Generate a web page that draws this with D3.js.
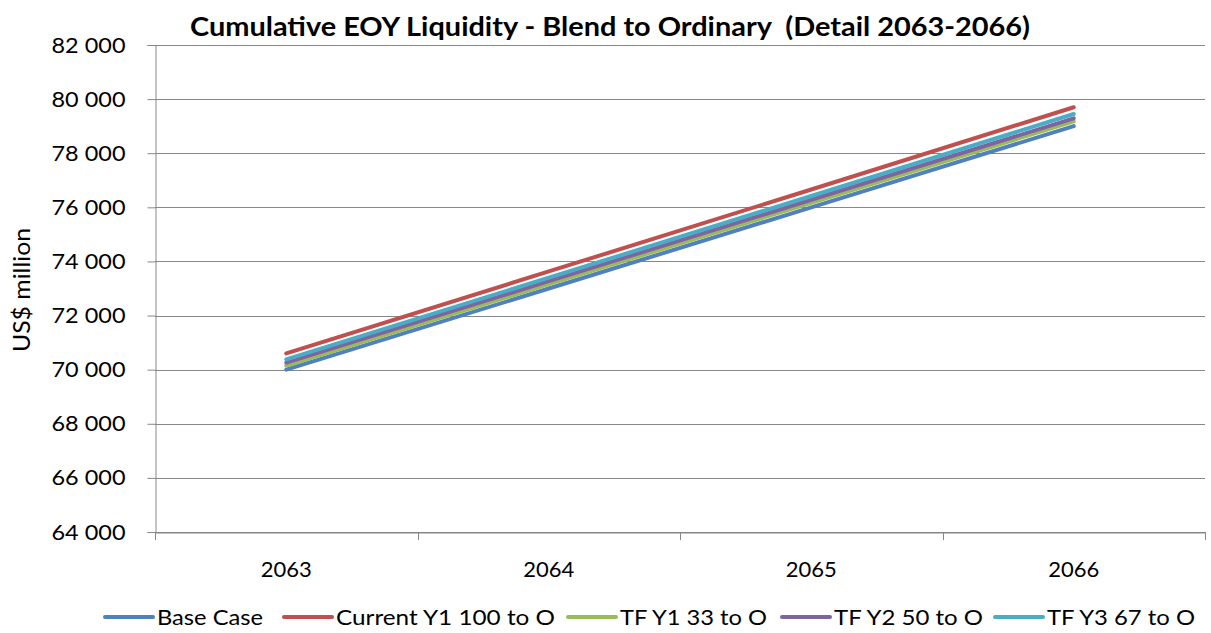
<!DOCTYPE html>
<html>
<head>
<meta charset="utf-8">
<script src="https://cdn.jsdelivr.net/npm/d3@7"></script>
<style>
  html, body { margin: 0; padding: 0; background: #fff; }
  svg { display: block; }
  text { font-family: Lato, "Open Sans", sans-serif; fill: #000; }
</style>
</head>
<body>
<svg id="chart" width="1211" height="633"></svg>
<script>
const categories = ["2063", "2064", "2065", "2066"];
const seriesNames = ["Base Case", "Current Y1 100 to O", "TF Y1 33 to O", "TF Y2 50 to O", "TF Y3 67 to O"];
const baseCase  = [70000, 73000, 76000, 79000];
const currentY1 = [70600, 73630, 76660, 79700];
const tfY1      = [70150, 73160, 76170, 79180];
const tfY2      = [70260, 73270, 76280, 79290];
const tfY3      = [70380, 73400, 76420, 79450];
const yTicks = [64000, 66000, 68000, 70000, 72000, 74000, 76000, 78000, 80000, 82000];
const colors = ["#4F81BD", "#C0504D", "#9BBB59", "#8064A2", "#4BACC6"];
const titleText = "Cumulative EOY Liquidity - Blend to Ordinary  (Detail 2063-2066)";
const yLabel = "US$ million";

const series = [baseCase, currentY1, tfY1, tfY2, tfY3].map((v, i) => ({name: seriesNames[i], values: v, color: colors[i]}));

const svg = d3.select("#chart");
const m = {left: 155, right: 1205, top: 45, bottom: 532};
const axisColor = "#878787";

const x = d3.scaleBand().domain(categories).range([m.left, m.right]);
const y = d3.scaleLinear().domain([64000, 82000]).range([m.bottom, m.top]);
const fmt = v => d3.format(",")(v).replace(/,/g, " ");

// gridlines
svg.append("g").selectAll("line").data(yTicks).join("line")
  .attr("x1", m.left).attr("x2", m.right)
  .attr("y1", d => Math.round(y(d)) + 0.5).attr("y2", d => Math.round(y(d)) + 0.5)
  .attr("stroke", axisColor).attr("stroke-width", 1);

// y axis
const yAxis = svg.append("g").attr("transform", `translate(${m.left + 0.5},0)`)
  .call(d3.axisLeft(y).tickValues(yTicks).tickFormat(fmt).tickSize(8).tickPadding(22));
yAxis.select(".domain").attr("stroke", axisColor);
yAxis.selectAll(".tick line").attr("stroke", axisColor);
yAxis.selectAll(".tick text").style("font-size", "22px").attr("fill", "#000")
  .attr("textLength", 74).attr("lengthAdjust", "spacingAndGlyphs");

// x axis
const xAxis = svg.append("g").attr("transform", `translate(0,${Math.round(y(64000)) + 0.5})`)
  .call(d3.axisBottom(x).tickSize(0).tickPadding(29));
xAxis.select(".domain").attr("stroke", axisColor);
xAxis.selectAll(".tick text").style("font-size", "22px").attr("fill", "#000");
// category boundary ticks
const bounds = categories.map(c => x(c)).concat([x(categories[categories.length - 1]) + x.bandwidth()]);
svg.append("g").selectAll("line").data(bounds).join("line")
  .attr("x1", d => Math.round(d) + 0.5).attr("x2", d => Math.round(d) + 0.5)
  .attr("y1", Math.round(y(64000))).attr("y2", Math.round(y(64000)) + 8)
  .attr("stroke", axisColor);

// lines
const line = d3.line().x((d, i) => x(categories[i]) + x.bandwidth() / 2).y(d => y(d));
svg.append("g").selectAll("path").data(series).join("path")
  .attr("d", d => line(d.values))
  .attr("fill", "none").attr("stroke", d => d.color)
  .attr("stroke-width", 4).attr("stroke-linecap", "round");

// title
svg.append("text").attr("x", 610).attr("y", 36).attr("text-anchor", "middle")
  .attr("xml:space", "preserve").style("white-space", "pre")
  .style("font-size", "26px").style("font-weight", "bold").text(titleText)
  .attr("textLength", 840).attr("lengthAdjust", "spacingAndGlyphs");

// y label
svg.append("text").attr("transform", "translate(30,290) rotate(-90)").attr("text-anchor", "middle")
  .style("font-size", "23px").text(yLabel)
  .attr("textLength", 124).attr("lengthAdjust", "spacingAndGlyphs");

// legend
const legendX = [105, 284, 568, 782, 995];
const legendW = [106, 219, 147, 149, 148];
const lg = svg.append("g").selectAll("g").data(series).join("g")
  .attr("transform", (d, i) => `translate(${legendX[i]},617)`);
lg.append("line").attr("x1", 0).attr("x2", 48).attr("y1", 0).attr("y2", 0)
  .attr("stroke", d => d.color).attr("stroke-width", 4).attr("stroke-linecap", "round");
lg.append("text").attr("x", 52).attr("y", 8).style("font-size", "22px").text(d => d.name)
  .attr("textLength", (d, i) => legendW[i]).attr("lengthAdjust", "spacingAndGlyphs");
</script>
</body>
</html>
